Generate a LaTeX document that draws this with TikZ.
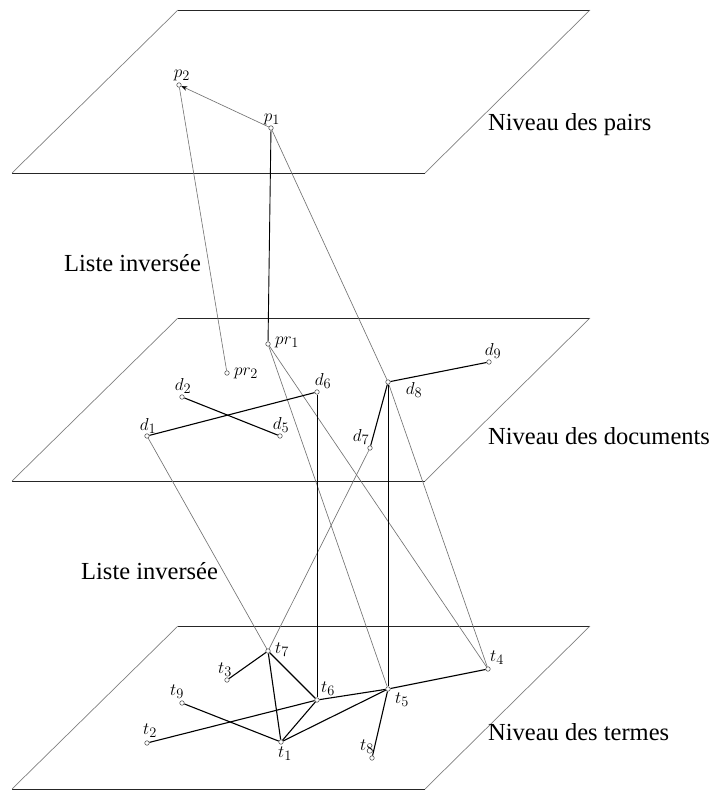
\documentclass[tikz,border=0pt]{standalone}
\usepackage{fontspec}
\newfontfamily\tnr{Liberation Serif}
\usetikzlibrary{arrows.meta}
\tikzset{
  pt/.style={circle,draw=black!65,fill=white,line width=0.6pt,inner sep=0pt,minimum size=4.5pt},
  lbl/.style={inner sep=0pt,font=\fontsize{19}{22}\selectfont},
  title/.style={inner sep=0pt,anchor=west,font=\tnr\fontsize{24.5}{28}\selectfont},
  edgeH/.style={black!85,line width=0.95pt},
  edgeS/.style={black!50,line width=0.7pt},
  thinl/.style={black!55,line width=0.65pt},
  vert/.style={black,line width=0.9pt},
  thick/.style={black,line width=1.1pt},
}
\begin{document}
\begin{tikzpicture}[x=1pt,y=-1pt]
\useasboundingbox (0,0) rectangle (719,790);
% planes
\foreach \yy/\nm in {10/A,318/B,626/C}{
  \coordinate (\nm tl) at (178,\yy);
  \coordinate (\nm tr) at (590,\yy);
  \coordinate (\nm br) at (425,\yy+163);
  \coordinate (\nm bl) at (12,\yy+163);
  \draw[edgeH] (\nm tl) -- (\nm tr);
  \draw[edgeH] (\nm bl) -- (\nm br);
  \draw[edgeS] (\nm tl) -- (\nm bl);
  \draw[edgeS] (\nm tr) -- (\nm br);
}
% points
\node[pt] (p2) at (179,85) {};
\node[pt] (p1) at (271,128) {};
\node[pt] (pr1) at (268,344) {};
\node[pt] (pr2) at (227,373) {};
\node[pt] (d2) at (182,397) {};
\node[pt] (d6) at (317,392) {};
\node[pt] (d1) at (147,436) {};
\node[pt] (d5) at (280,436) {};
\node[pt] (d8) at (388,382) {};
\node[pt] (d9) at (489,362) {};
\node[pt] (d7) at (370,448) {};
\node[pt] (t7) at (268,651) {};
\node[pt] (t3) at (227,680) {};
\node[pt] (t6) at (317,700) {};
\node[pt] (t9) at (182,703) {};
\node[pt] (t2) at (147,743) {};
\node[pt] (t1) at (281,742) {};
\node[pt] (t5) at (388,689) {};
\node[pt] (t4) at (488,669) {};
\node[pt] (t8) at (372,758) {};
% labels
\node[lbl] (lp2) at (182,75) {$p_2$};
\node[lbl] (lp1) at (272,119) {$p_1$};
\node[lbl] (lpr1) at (287,342) {$pr_1$};
\node[lbl] (lpr2) at (246,373) {$pr_2$};
\node[lbl] (ld2) at (183,386) {$d_2$};
\node[lbl] (ld6) at (323,381) {$d_6$};
\node[lbl] (ld1) at (148,426) {$d_1$};
\node[lbl] (ld5) at (281,425) {$d_5$};
\node[lbl] (ld8) at (414,390) {$d_8$};
\node[lbl] (ld9) at (493,351) {$d_9$};
\node[lbl] (ld7) at (361,437) {$d_7$};
\node[lbl] (lt7) at (282,650) {$t_7$};
\node[lbl] (lt3) at (225,670) {$t_3$};
\node[lbl] (lt6) at (328,689) {$t_6$};
\node[lbl] (lt9) at (177,692) {$t_9$};
\node[lbl] (lt2) at (150,731) {$t_2$};
\node[lbl] (lt1) at (285,754) {$t_1$};
\node[lbl] (lt5) at (402,700) {$t_5$};
\node[lbl] (lt4) at (497,658) {$t_4$};
\node[lbl] (lt8) at (367,747) {$t_8$};
% titles
\node[title] (n1) at (488,125) {Niveau des pairs};
\node[title] (n2) at (488,436) {Niveau des documents};
\node[title] (n3) at (488,732) {Niveau des termes};
\node[title] (l1) at (64,263) {Liste inversée};
\node[title] (l2) at (81,571) {Liste inversée};
% thin gray links
\draw[thinl,-{Stealth[length=6pt,width=4.5pt,color=black]}] (p1) -- (p2);
\draw[thinl] (p2) -- (pr2);
\draw[thinl] (p1) -- (d8);
\draw[thinl] (d8) -- (t4);
\draw[thinl] (pr1) -- (t5);
\draw[thinl] (pr1) -- (t4);
\draw[thinl] (d1) -- (t7);
\draw[thinl] (d7) -- (t7);
% vertical links
\draw[vert] (p1) -- (pr1);
\draw[vert] (d6) -- (t6);
\draw[vert] (d8) -- (t5);
% in-plane links
\draw[thick] (d1) -- (d6);
\draw[thick] (d2) -- (d5);
\draw[thick] (d8) -- (d9);
\draw[thick] (d8) -- (d7);
\draw[thick] (t7) -- (t3);
\draw[thick] (t7) -- (t1);
\draw[thick] (t7) -- (t6);
\draw[thick] (t6) -- (t1);
\draw[thick] (t9) -- (t1);
\draw[thick] (t2) -- (t6);
\draw[thick] (t6) -- (t5);
\draw[thick] (t1) -- (t5);
\draw[thick] (t5) -- (t4);
\draw[thick] (t5) -- (t8);
\end{tikzpicture}
\end{document}
